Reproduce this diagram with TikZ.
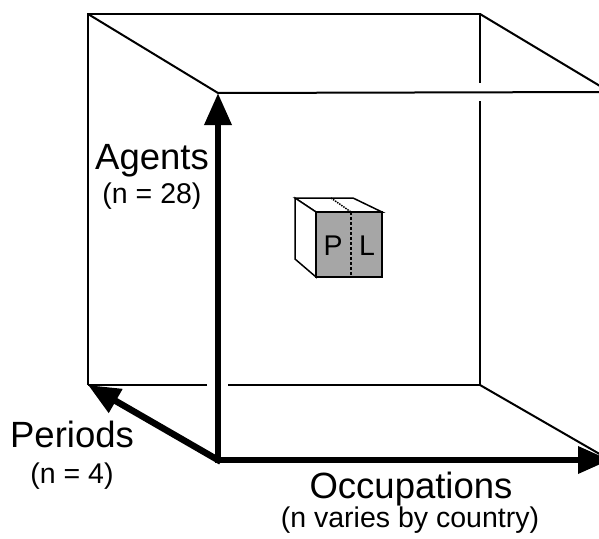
\documentclass[tikz,border=0pt]{standalone}
\usepackage{fontspec}
\setmainfont{Liberation Sans}
\usetikzlibrary{arrows.meta}
\begin{document}
\begin{tikzpicture}[x=1pt, y=-1pt,
	edge/.style={line width=2pt},
	thin edge/.style={line width=1.5pt},
	axis/.style={line width=6.5pt, line cap=rect, -{Triangle[length=32pt, width=26pt]}},
	title/.style={anchor=base, inner sep=0pt, font=\fontsize{36.5}{40}\selectfont},
	subtitle/.style={anchor=base, inner sep=0pt, font=\fontsize{28.5}{32}\selectfont}]
	\useasboundingbox (0,0) rectangle (599,538);
	\clip (0,0) rectangle (599,538);
	% Corners of the big cube:
	\coordinate (btl) at (88,14);   \coordinate (btr) at (480,14);
	\coordinate (bbl) at (88,385);  \coordinate (bbr) at (480,385);
	\coordinate (ftl) at (218,93);  \coordinate (ftr) at (610,92);
	\coordinate (fbl) at (218,460); \coordinate (fbr) at (610,460);
	% Gaps of the hidden edges:
	\coordinate (gapA) at (207,385); \coordinate (gapB) at (228,385);
	\coordinate (gapC) at (480,83);  \coordinate (gapD) at (480,101);
	% Paths, nodes and wires:
	\draw[edge] (bbl) -- (btl) -- (btr) -- (gapC);
	\draw[edge] (gapD) -- (bbr) -- (gapB);
	\draw[edge] (gapA) -- (bbl);
	\draw[edge] (btl) -- (ftl) -- (ftr);
	\draw[edge] (btr) -- (ftr);
	\draw[edge] (bbr) -- (fbr);
	\draw[axis] (fbl) -- (ftl);
	\draw[axis] (fbl) -- (bbl);
	\draw[axis] (fbl) -- (fbr);
	% Small cube:
	\coordinate (sbtl) at (295,198); \coordinate (sbtr) at (353,198); \coordinate (sbbl) at (295,259);
	\coordinate (sftl) at (316,212); \coordinate (sftr) at (382,212);
	\coordinate (sfbl) at (316,277); \coordinate (sfbr) at (382,277);
	\coordinate (smidt) at (351,212); \coordinate (smidb) at (351,277); \coordinate (smidk) at (331,198);
	\draw[thin edge, fill=white] (sbtl) -- (sbtr) -- (sftr) -- (sftl) -- cycle;
	\draw[thin edge, fill=white] (sbtl) -- (sftl) -- (sfbl) -- (sbbl) -- cycle;
	\draw[thin edge, fill=black!35] (sftl) rectangle (sfbr);
	\draw[thin edge, densely dashed] (smidt) -- (smidb);
	\draw[thin edge, densely dotted] (smidk) -- (smidt);
	\node[subtitle] (p) at (333,255) {P};
	\node[subtitle] (l) at (367,255) {L};
	% Labels:
	\node[title] (agents) at (152,169) {Agents};
	\node[subtitle] (agentsn) at (152,203) {(n = 28)};
	\node[title] (periods) at (72,447) {Periods};
	\node[subtitle] (periodsn) at (72,483) {(n = 4)};
	\node[title] (occ) at (411,498) {Occupations};
	\node[subtitle] (occn) at (410,527) {(n varies by country)};
\end{tikzpicture}
\end{document}
